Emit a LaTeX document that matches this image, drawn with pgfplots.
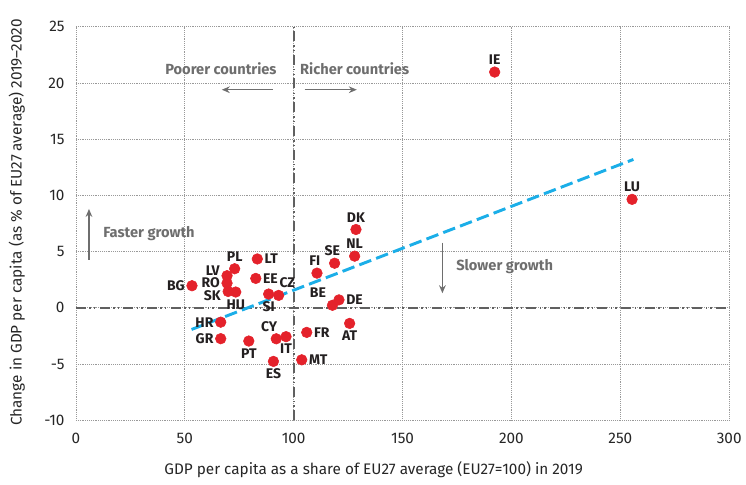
\documentclass[border=0pt]{standalone}
\usepackage{pgfplots}
\pgfplotsset{compat=1.18}
\usepackage{fontspec}
\setmainfont{Fira Sans}
\usetikzlibrary{arrows.meta}

\definecolor{dotred}{HTML}{E4222B}
\definecolor{trendblue}{HTML}{1BAEE8}
\definecolor{anngray}{HTML}{6E6E6E}
\definecolor{refgray}{HTML}{606060}
\definecolor{labblack}{HTML}{231F20}

\pgfplotsset{
  pts/.style={only marks, mark=*, mark size=4pt, mark options={fill=dotred, draw=dotred},
    point meta=explicit symbolic, nodes near coords,
    every node near coord/.append style={anchor=#1, font=\fontsize{10.5}{12}\selectfont\bfseries, text=labblack, inner sep=1pt, outer sep=4.5pt}},
  refline/.style={refgray, line width=1.4pt, dash pattern=on 7.5pt off 2.6pt on 1.1pt off 2.3pt on 1.1pt off 3.2pt},
}

\begin{document}
\begin{tikzpicture}[font=\fontsize{11.5}{13.8}\selectfont]
\begin{axis}[
  scale only axis,
  width=490.5pt, height=295.5pt,
  xmin=0, xmax=300, ymin=-10, ymax=25,
  xtick={0,50,...,300}, ytick={-10,-5,...,25},
  grid=major,
  grid style={densely dotted, draw=gray!80, line width=0.6pt},
  axis line style={draw=none},
  major tick length=0pt,
  tick label style={font=\fontsize{11.5}{13.8}\selectfont, text=black!85},
  /pgf/number format/assume math mode=true,
  xticklabel style={yshift=-6pt},
  yticklabel style={xshift=-5pt},
  clip=false,
]
% bounding box matching reference
\path (axis cs:-34.86,27.38) rectangle (axis cs:307.3,-15.69);

% reference lines
\addplot[refline] coordinates {(100,-10) (100,25)};
\addplot[refline] coordinates {(0,0) (300,0)};

% trend line
\addplot[trendblue, line width=2.2pt, dash pattern=on 9.5pt off 4pt] coordinates {(53.1,-1.92) (256,13.2)};

% points, grouped by label placement
\addplot[pts=270] coordinates {(192.3,20.97) [IE] (255.4,9.65) [LU] (128.6,6.97) [DK] (128.0,4.60) [NL] (72.9,3.48) [PL]};
\addplot[pts=280] coordinates {(118.8,3.97) [SE] (110.7,3.09) [FI]};
\addplot[pts=180] coordinates {(83.3,4.35) [LT] (82.6,2.62) [EE] (120.8,0.71) [DE] (106.0,-2.18) [FR] (103.7,-4.62) [MT]};
\addplot[pts=340] coordinates {(69.4,2.86) [LV]};
\addplot[pts=0] coordinates {(69.4,2.20) [RO] (53.3,1.97) [BG] (66.5,-1.27) [HR] (66.5,-2.74) [GR]};
\addplot[pts=15] coordinates {(69.9,1.46) [SK]};
\addplot[pts=90] coordinates {(73.4,1.41) [HU] (88.5,1.23) [SI] (79.4,-2.95) [PT] (96.5,-2.56) [IT] (125.7,-1.38) [AT] (90.7,-4.76) [ES]};
\addplot[pts=235] coordinates {(93.1,1.11) [CZ]};
\addplot[pts=320] coordinates {(117.8,0.23) [BE]};
\addplot[pts=300] coordinates {(92.0,-2.75) [CY]};

% annotations
\node[font=\fontsize{11}{13}\selectfont\bfseries, text=anngray] at (axis cs:66.6,21.3) {Poorer countries};
\node[font=\fontsize{11}{13}\selectfont\bfseries, text=anngray] at (axis cs:128,21.3) {Richer countries};
\draw[anngray, line width=1.1pt, -{Stealth[length=6pt,width=5pt]}] (axis cs:90.4,19.4) -- (axis cs:67,19.4);
\draw[anngray, line width=1.1pt, -{Stealth[length=6pt,width=5pt]}] (axis cs:105,19.4) -- (axis cs:129,19.4);
\node[font=\fontsize{11}{13}\selectfont\bfseries, text=anngray, anchor=west] at (axis cs:10.5,6.6) {Faster growth};
\draw[anngray, line width=1.1pt, -{Stealth[length=6pt,width=5pt]}] (axis cs:6,4.26) -- (axis cs:6,8.8);
\node[font=\fontsize{11}{13}\selectfont\bfseries, text=anngray, anchor=west] at (axis cs:172.5,3.65) {Slower growth};
\draw[anngray, line width=1.1pt, -{Stealth[length=6pt,width=5pt]}] (axis cs:168.3,5.8) -- (axis cs:168.3,1.3);

% axis labels
\node[rotate=90, text=black!85] at (axis cs:-27.1,7.6) {Change in GDP per capita (as \% of EU27 average) 2019--2020};
\node[text=black!85] at (axis cs:136.7,-14.36) {GDP per capita as a share of EU27 average (EU27=100) in 2019};
\end{axis}
\end{tikzpicture}
\end{document}
